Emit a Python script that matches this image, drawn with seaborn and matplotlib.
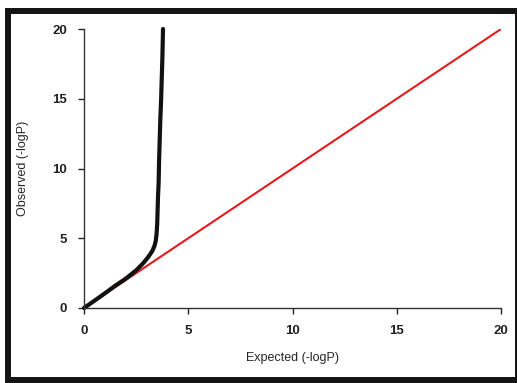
import matplotlib
matplotlib.use("Agg")
import matplotlib.pyplot as plt
import pandas as pd
import seaborn as sns
from matplotlib.patches import Rectangle

# QQ plot values
expected = [0, 0.5, 1.0, 1.5, 2.0, 2.5, 2.8, 3.0, 3.15, 3.28, 3.38, 3.44, 3.48,
            3.51, 3.53, 3.55, 3.58, 3.6, 3.63, 3.66, 3.7, 3.73, 3.76, 3.79]
observed = [0, 0.52, 1.05, 1.6, 2.1, 2.7, 3.15, 3.5, 3.8, 4.1, 4.45, 4.8, 5.3,
            6.0, 7.0, 8.0, 9.0, 10.5, 12.0, 13.5, 15.0, 16.5, 18.0, 20.0]
diag_x = [0, 20]
diag_y = [0, 20]
ticks = [0, 5, 10, 15, 20]

qq = pd.DataFrame({"expected": expected, "observed": observed})
diag = pd.DataFrame({"x": diag_x, "y": diag_y})

sns.set_style("ticks")
plt.rcParams['font.family'] = ['Liberation Sans', 'DejaVu Sans']

fig = plt.figure(figsize=(5.17, 3.83), dpi=100)
ax = fig.add_axes([84 / 517, 75 / 383, 417 / 517, 279 / 383])

sns.lineplot(data=diag, x="x", y="y", color="#e41a1c", linewidth=1.5, ax=ax)
sns.lineplot(data=qq, x="expected", y="observed", color="#111111",
             linewidth=3, ax=ax, clip_on=False)

ax.set_xlim(0, 20)
ax.set_ylim(0, 20)
ax.set_xticks(ticks)
ax.set_yticks(ticks)
ax.tick_params(length=4, width=1, pad=8, labelsize=9.5, colors="#222222")
for lab in ax.get_xticklabels() + ax.get_yticklabels():
    lab.set_fontweight("bold")
ax.set_xlabel("Expected (-logP)", fontsize=9, labelpad=11)
ax.set_ylabel("Observed (-logP)", fontsize=9, labelpad=17)
for side in ["top", "right"]:
    ax.spines[side].set_visible(False)
for side in ["left", "bottom"]:
    ax.spines[side].set_linewidth(1)
    ax.spines[side].set_color("#333333")

# dark frame around the whole picture
fig.patches.append(Rectangle((8 / 517, 3 / 383), 510 / 517, 369 / 383,
                             transform=fig.transFigure, fill=False,
                             edgecolor="#141414", linewidth=4.3, clip_on=False))

plt.savefig("out.png", dpi=100)
